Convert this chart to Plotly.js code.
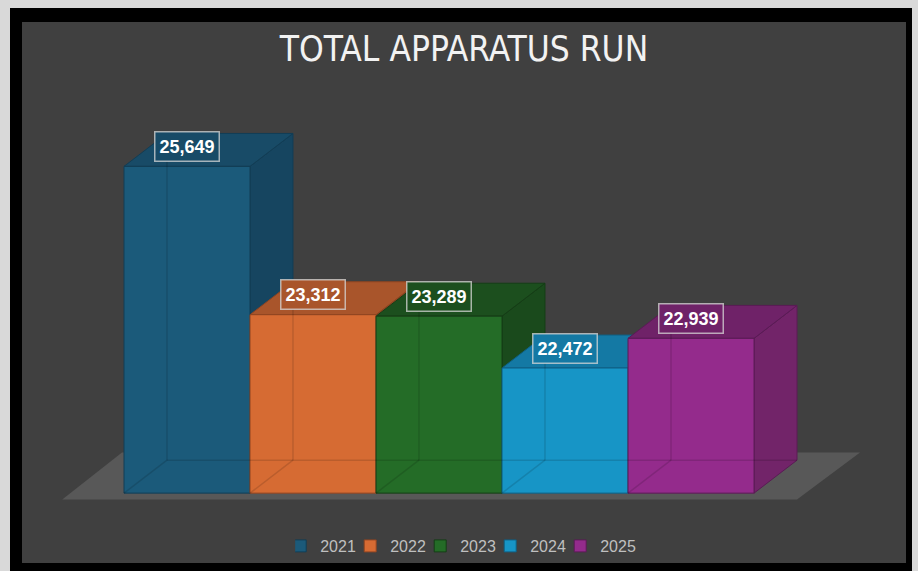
<!DOCTYPE html>
<html><head><meta charset="utf-8">
<script src="https://cdn.plot.ly/plotly-3.0.1.min.js"></script>
<style>
html,body{margin:0;padding:0;background:#d9d9d9;width:918px;height:571px;overflow:hidden;}
#frame{position:absolute;left:10px;top:8px;width:902px;height:563px;background:#000;}
#chart{position:absolute;left:22px;top:22px;width:884px;height:541px;}
</style></head><body>
<div id="frame"></div><div id="chart"></div>
<script>
// ---- data ----
const years = ['2021', '2022', '2023', '2024', '2025'];
const runs = [25649, 23312, 23289, 22472, 22939];
const labels = ['25,649', '23,312', '23,289', '22,472', '22,939'];
const titleText = 'TOTAL APPARATUS RUN';

// ---- styles ----
const frontColors = ['#1b5a7a', '#d66b33', '#246c27', '#1795c6', '#942b8c'];
const topColors   = ['#184b67', '#a9552b', '#1c4f1e', '#1479a4', '#6f2268'];
const sideColors  = ['#164560', '#9c4e27', '#1a4a1c', '#126f98', '#722469'];
const edgeColors  = ['#123d55', '#8f4421', '#153d16', '#0f5f82', '#5a1b55'];

const BASE = 20500;      // value axis minimum (floor of bars)
const DX = 0.341;        // depth offset in category units
const DYV = 519;         // depth offset in value units

const traces = years.map((yr, i) => ({
  type: 'bar',
  name: yr,
  x: [i],
  y: [runs[i] - BASE],
  base: [BASE],
  width: [1],
  marker: {color: frontColors[i], line: {color: edgeColors[i], width: 1}},
  hoverinfo: 'skip'
}));

const shapes = [];
// floor slab
const n = years.length;
const fl = -0.5 - 0.49, fr = n - 0.5 + DX, fyF = BASE - 100, fyB = BASE + 640;
shapes.push({type: 'path', layer: 'below', xref: 'x', yref: 'y',
  path: `M${fl},${fyF} L${fr},${fyF} L${fr + 0.5},${fyB} L${fl + 0.474},${fyB} Z`,
  fillcolor: '#585858', line: {width: 0}});
// sides & tops
years.forEach((yr, i) => {
  const v = runs[i];
  const x0 = i - 0.5, x1 = i + 0.5;
  shapes.push({type: 'path', layer: 'below', xref: 'x', yref: 'y',
    path: `M${x1},${BASE} L${x1},${v} L${x1 + DX},${v + DYV} L${x1 + DX},${BASE + DYV} Z`,
    fillcolor: sideColors[i], line: {color: edgeColors[i], width: 1}});
  shapes.push({type: 'path', layer: 'below', xref: 'x', yref: 'y',
    path: `M${x0},${v} L${x1},${v} L${x1 + DX},${v + DYV} L${x0 + DX},${v + DYV} Z`,
    fillcolor: topColors[i], line: {color: edgeColors[i], width: 1}});
});
// faint hidden back edges seen through the translucent bars
years.forEach((yr, i) => {
  const v = runs[i];
  const x0 = i - 0.5, x1 = i + 0.5;
  const st = {color: 'rgba(0,0,0,0.13)', width: 1.5};
  shapes.push({type: 'line', layer: 'above', xref: 'x', yref: 'y', x0: x0, y0: BASE, x1: x0 + DX, y1: BASE + DYV, line: st});
  shapes.push({type: 'line', layer: 'above', xref: 'x', yref: 'y', x0: x0 + DX, y0: BASE + DYV, x1: x0 + DX, y1: v + DYV, line: st});
  shapes.push({type: 'line', layer: 'above', xref: 'x', yref: 'y', x0: x0 + DX, y0: BASE + DYV, x1: x1 + DX, y1: BASE + DYV, line: st});
});

const annotations = years.map((yr, i) => ({
  x: i, y: runs[i], xref: 'x', yref: 'y', yshift: 20,
  text: '<b>' + labels[i] + '</b>', showarrow: false,
  xanchor: 'center', yanchor: 'middle',
  font: {family: 'Liberation Sans, Arial, sans-serif', size: 18, color: '#ffffff'},
  bgcolor: topColors[i], bordercolor: 'rgba(215,215,215,0.75)', borderwidth: 1.5, borderpad: 4
}));

const layout = {
  width: 884, height: 541,
  paper_bgcolor: '#404040', plot_bgcolor: 'rgba(0,0,0,0)',
  margin: {l: 0, r: 0, t: 0, b: 0},
  barmode: 'overlay',
  title: {text: titleText, x: 0.5, xanchor: 'center', xref: 'container', y: 0.95, yanchor: 'middle', yref: 'container',
    font: {family: 'Liberation Sans Narrow, Arial Narrow, DejaVu Sans Condensed, Liberation Sans, sans-serif', size: 35, color: '#f2f2f2'}},
  xaxis: {range: [-1.3095, 5.706], visible: false, fixedrange: true},
  yaxis: {range: [19415, 27924], visible: false, fixedrange: true},
  showlegend: true,
  legend: {orientation: 'h', x: 0.507, xanchor: 'center', y: 0.03, yanchor: 'middle',
    indentation: -15, entrywidth: 40,
    font: {family: 'Liberation Sans, Arial, sans-serif', size: 16, color: '#bfbfbf'}, bgcolor: 'rgba(0,0,0,0)'},
  shapes: shapes,
  annotations: annotations
};

Plotly.newPlot('chart', traces, layout, {displayModeBar: false, staticPlot: true});
</script>
</body></html>
